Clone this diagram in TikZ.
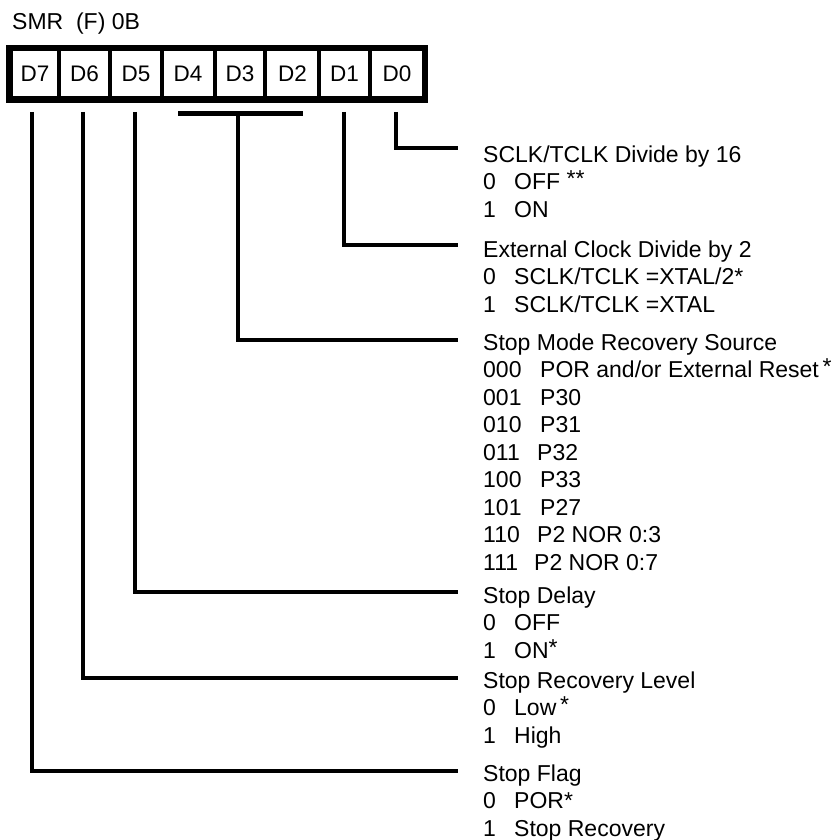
\documentclass[tikz,border=0pt]{standalone}
\usepackage{fontspec}
\setmainfont{Liberation Sans}
\newcommand{\sgl}[2]{\makebox[31pt][l]{#1}#2}
\newcommand{\trp}[3][0pt]{\makebox[57pt][l]{#2}\hspace{#1}#3}
\newcommand{\rast}{\raisebox{3pt}{*}}
\begin{document}
\begin{tikzpicture}[x=1pt,y=-1pt,
  conn/.style={line width=4.5pt, line join=miter, line cap=butt},
  txt/.style={inner sep=0pt, anchor=base west, font=\fontsize{23}{27.5}\selectfont},
  cell/.style={inner sep=0pt, anchor=base, font=\fontsize{22.5}{27.5}\selectfont}]
\useasboundingbox (0,0) rectangle (835,840);
% title
\node[txt] (title) at (12,30) {SMR\ \ (F) 0B};
% register box
\draw[line width=6.5pt] (9.5,48) rectangle (425,99.5);
\foreach \x in {59,110,162,215,265,319,370}
  \draw[line width=4pt] (\x,48) -- (\x,99.5);
\node[cell] (d7) at (35,82) {D7};
\node[cell] (d6) at (84.5,82) {D6};
\node[cell] (d5) at (136,82) {D5};
\node[cell] (d4) at (188,82) {D4};
\node[cell] (d3) at (240,82) {D3};
\node[cell] (d2) at (292.5,82) {D2};
\node[cell] (d1) at (344.5,82) {D1};
\node[cell] (d0) at (397,82) {D0};
% connector coordinates
\coordinate (t0) at (396,112);
\coordinate (t1) at (344,112);
\coordinate (bl) at (178,113.5);
\coordinate (br) at (303,113.5);
\coordinate (t3) at (238,113.5);
\coordinate (t5) at (135,112);
\coordinate (t6) at (83,112);
\coordinate (t7) at (32,112);
\coordinate (e0) at (458,148);
\coordinate (e1) at (458,245);
\coordinate (e3) at (458,340);
\coordinate (e5) at (458,592);
\coordinate (e6) at (458,678);
\coordinate (e7) at (458,771);
\draw[conn] (t0) |- (e0);
\draw[conn] (t1) |- (e1);
\draw[conn] (bl) -- (br);
\draw[conn] (t3) |- (e3);
\draw[conn] (t5) |- (e5);
\draw[conn] (t6) |- (e6);
\draw[conn] (t7) |- (e7);
% descriptions
\node[txt] (b0) at (483,162) {\begin{tabular}[t]{@{}l@{}}SCLK/TCLK Divide by 16\\
  \sgl{0}{OFF \rast\rast}\\
  \sgl{1}{ON}\end{tabular}};
\node[txt] (b1) at (483,257) {\begin{tabular}[t]{@{}l@{}}External Clock Divide by 2\\
  \sgl{0}{SCLK/TCLK =XTAL/2*}\\
  \sgl{1}{SCLK/TCLK =XTAL}\end{tabular}};
\node[txt] (b3) at (483,350) {\begin{tabular}[t]{@{}l@{}}Stop Mode Recovery Source\\
  \trp{000}{POR and/or External Reset\,\rast}\\
  \trp{001}{P30}\\
  \trp{010}{P31}\\
  \trp[-3pt]{011}{P32}\\
  \trp{100}{P33}\\
  \trp{101}{P27}\\
  \trp[-3pt]{110}{P2 NOR 0:3}\\
  \trp[-6pt]{111}{P2 NOR 0:7}\end{tabular}};
\node[txt] (b5) at (483,603) {\begin{tabular}[t]{@{}l@{}}Stop Delay\\
  \sgl{0}{OFF}\\
  \sgl{1}{ON\rast}\end{tabular}};
\node[txt] (b6) at (483,688) {\begin{tabular}[t]{@{}l@{}}Stop Recovery Level\\
  \sgl{0}{Low\,\rast}\\
  \sgl{1}{High}\end{tabular}};
\node[txt] (b7) at (483,781) {\begin{tabular}[t]{@{}l@{}}Stop Flag\\
  \sgl{0}{POR*}\\
  \sgl{1}{Stop Recovery}\end{tabular}};
\end{tikzpicture}
\end{document}
